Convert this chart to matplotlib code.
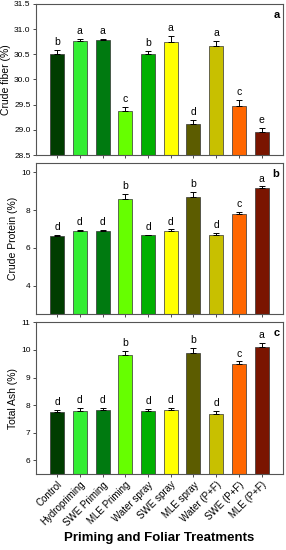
import matplotlib
matplotlib.use("Agg")
import matplotlib.pyplot as plt

plt.rcParams['font.family'] = ['Liberation Sans', 'DejaVu Sans']

treatments = ['Control', 'Hydropriming', 'SWE Priming', 'MLE Priming', 'Water spray',
              'SWE spray', 'MLE spray', 'Water (P+F)', 'SWE (P+F)', 'MLE (P+F)']
colors = ['#003d00', '#33ee33', '#007a10', '#66ff00', '#00b000',
          '#ffff00', '#5c5c00', '#c8c000', '#ff6600', '#7a1500']

fiber = [30.50, 30.77, 30.78, 29.38, 30.50, 30.75, 29.12, 30.67, 29.47, 28.95]
fiber_err = [0.08, 0.04, 0.02, 0.08, 0.06, 0.11, 0.07, 0.10, 0.12, 0.09]
fiber_letters = ['b', 'a', 'a', 'c', 'b', 'a', 'd', 'a', 'c', 'e']

protein = [6.63, 6.87, 6.90, 8.56, 6.66, 6.90, 8.71, 6.68, 7.80, 9.18]
protein_err = [0.07, 0.06, 0.07, 0.31, 0.04, 0.08, 0.26, 0.10, 0.10, 0.07]
protein_letters = ['d', 'd', 'd', 'b', 'd', 'd', 'b', 'd', 'c', 'a']

ash = [7.76, 7.80, 7.83, 9.80, 7.80, 7.84, 9.87, 7.69, 9.50, 10.10]
ash_err = [0.08, 0.10, 0.08, 0.17, 0.07, 0.05, 0.20, 0.09, 0.08, 0.15]
ash_letters = ['d', 'd', 'd', 'b', 'd', 'd', 'b', 'd', 'c', 'a']

panels = [
    (fiber, fiber_err, fiber_letters, 'Crude fiber (%)', (28.5, 31.5), [28.5, 29.0, 29.5, 30.0, 30.5, 31.0, 31.5], '{:.1f}', 'a', 0.06),
    (protein, protein_err, protein_letters, 'Crude Protein (%)', (2.5, 10.5), [4, 6, 8, 10], '{:.0f}', 'b', 0.15),
    (ash, ash_err, ash_letters, 'Total Ash (%)', (5.5, 11), [6, 7, 8, 9, 10, 11], '{:.0f}', 'c', 0.1),
]

fig = plt.figure(figsize=(2.86, 5.5), dpi=100)
boxes = [(0.126, 0.718, 0.864, 0.275), (0.126, 0.429, 0.864, 0.275), (0.126, 0.138, 0.864, 0.276)]
x = list(range(len(treatments)))

for i, (vals, errs, letters, ylabel, ylim, yt, fmt, tag, off) in enumerate(panels):
    ax = fig.add_axes(boxes[i])
    # upper error bars only
    ax.bar(x, vals, width=0.62, color=colors, edgecolor='#333333', linewidth=0.5,
           yerr=[[0] * len(errs), errs],
           error_kw=dict(ecolor='black', elinewidth=0.7, capsize=2.5, capthick=0.7))
    for xi, v, e, l in zip(x, vals, errs, letters):
        ax.text(xi, v + e + off, l, ha='center', va='bottom', fontsize=7.5)
    ax.set_ylim(ylim)
    ax.set_xlim(-0.93, 9.95)
    ax.set_yticks(yt)
    ax.set_yticklabels([fmt.format(t) for t in yt], fontsize=6)
    ax.set_ylabel(ylabel, fontsize=7.5, labelpad=2)
    ax.set_xticks(x)
    ax.tick_params(axis='both', direction='out', length=2.5, width=0.5, pad=1.5)
    for s in ax.spines.values():
        s.set_color('#555555')
        s.set_linewidth(0.8)
    ax.text(0.985, 0.96, tag, transform=ax.transAxes, ha='right', va='top',
            fontsize=8, fontweight='bold')
    if i < 2:
        ax.set_xticklabels([])
    else:
        ax.set_xticklabels(treatments, rotation=45, ha='right', rotation_mode='anchor', fontsize=7)

fig.text(0.555, 0.022, 'Priming and Foliar Treatments', ha='center', va='center',
         fontsize=9.5, fontweight='bold')

fig.savefig('out.png', dpi=100)
